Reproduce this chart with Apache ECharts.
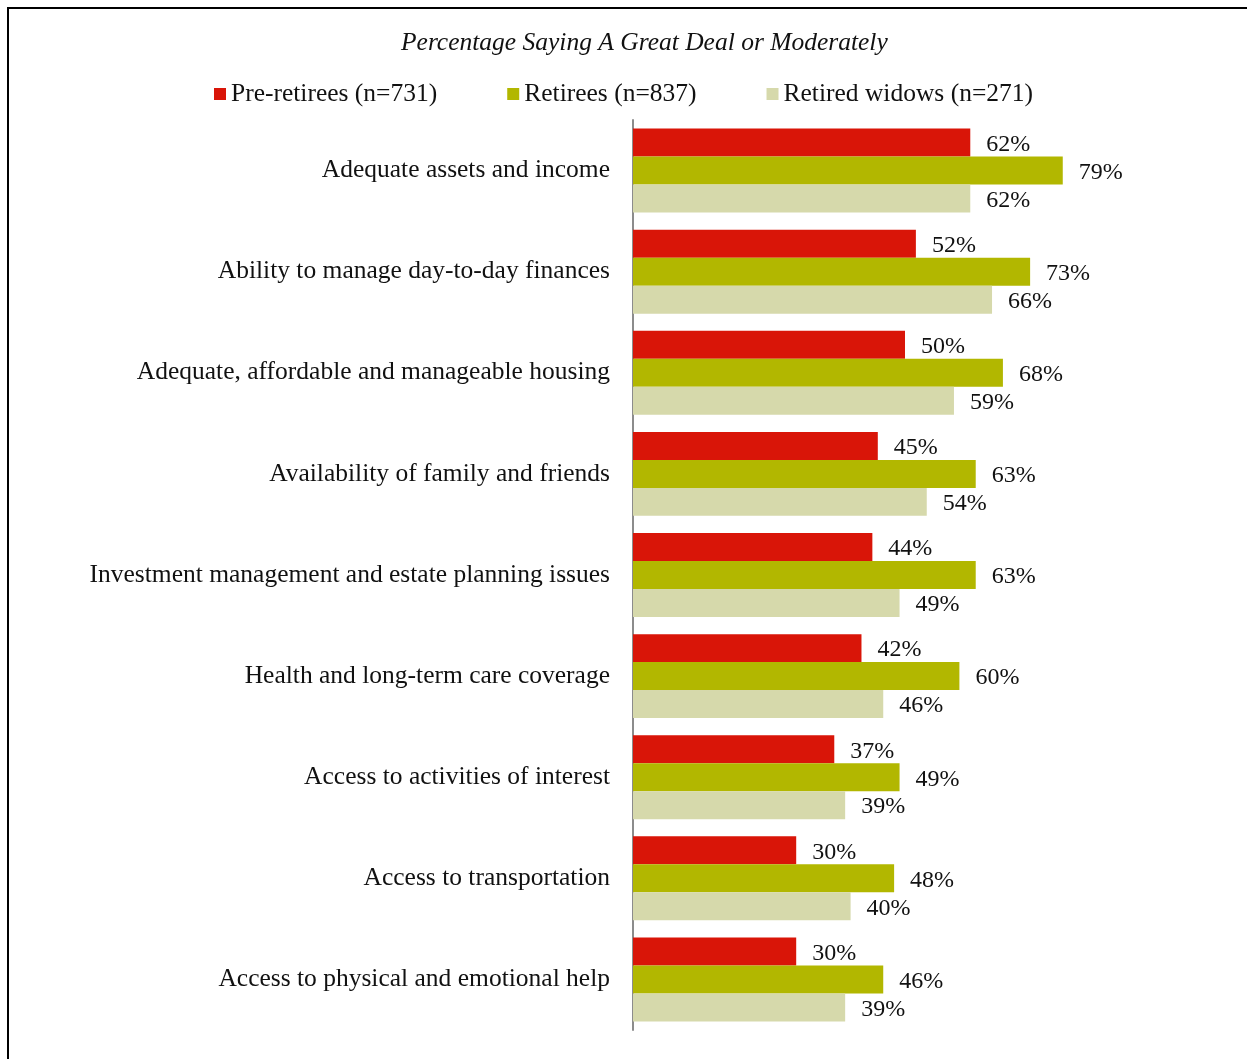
<!DOCTYPE html>
<html>
<head>
<meta charset="utf-8">
<style>
  html, body { margin: 0; padding: 0; background: #fff; }
  #chart { width: 1247px; height: 1059px; }
</style>
<script src="https://cdn.jsdelivr.net/npm/echarts@6/dist/echarts.min.js"></script>
</head>
<body>
<div id="chart"></div>
<script>
// Survey topics, top to bottom
const categories = [
  'Adequate assets and income',
  'Ability to manage day-to-day finances',
  'Adequate, affordable and manageable housing',
  'Availability of family and friends',
  'Investment management and estate planning issues',
  'Health and long-term care coverage',
  'Access to activities of interest',
  'Access to transportation',
  'Access to physical and emotional help'
];

// Percentage saying "a great deal" or "moderately"
const preRetirees = [62, 52, 50, 45, 44, 42, 37, 30, 30];
const retirees = [79, 73, 68, 63, 63, 60, 49, 48, 46];
const retiredWidows = [62, 66, 59, 54, 49, 46, 39, 40, 39];

const seriesNames = ['Pre-retirees (n=731)', 'Retirees (n=837)', 'Retired widows (n=271)'];
const seriesColors = ['#D91508', '#B2B700', '#D6D9AB'];

const FONT = '"Liberation Serif", "Times New Roman", serif';
const TEXT_SIZE = 25.5;

const chart = echarts.init(document.getElementById('chart'), null, { renderer: 'canvas' });

function barSeries(name, data, color) {
  return {
    name: name,
    type: 'bar',
    data: data,
    barGap: '0%',
    barCategoryGap: '17%',
    itemStyle: { color: color },
    label: {
      show: true,
      position: 'right',
      distance: 16,
      formatter: '{c}%',
      color: '#111',
      fontFamily: FONT,
      fontSize: 24,
      offset: [0, 2]
    },
    emphasis: { disabled: true },
    animation: false
  };
}

chart.setOption({
  backgroundColor: '#fff',
  animation: false,
  title: {
    text: 'Percentage Saying A Great Deal or Moderately',
    left: 396,
    top: 25,
    textStyle: {
      fontFamily: FONT,
      fontStyle: 'italic',
      fontWeight: 'normal',
      fontSize: TEXT_SIZE,
      color: '#111'
    }
  },
  legend: {
    top: 76,
    left: 'center',
    itemWidth: 12,
    itemHeight: 12,
    itemGap: 70,
    icon: 'rect',
    textStyle: { fontFamily: FONT, fontSize: TEXT_SIZE, color: '#111' },
    data: seriesNames
  },
  grid: {
    left: 633,
    right: 70,
    top: 120,
    bottom: 29,
    containLabel: false
  },
  xAxis: {
    type: 'value',
    min: 0,
    max: 100,
    show: false
  },
  yAxis: {
    type: 'category',
    inverse: true,
    data: categories,
    axisLine: { show: true, lineStyle: { color: '#8c8c8c', width: 2 } },
    axisTick: { show: false },
    axisLabel: {
      margin: 23,
      padding: [4, 0, 0, 0],
      fontFamily: FONT,
      fontSize: TEXT_SIZE,
      color: '#111'
    }
  },
  graphic: [
    {
      type: 'polyline',
      shape: { points: [[8, 1059], [8, 8], [1247, 8]] },
      style: { stroke: '#000', lineWidth: 2, fill: null },
      silent: true
    }
  ],
  series: [
    barSeries(seriesNames[0], preRetirees, seriesColors[0]),
    barSeries(seriesNames[1], retirees, seriesColors[1]),
    barSeries(seriesNames[2], retiredWidows, seriesColors[2])
  ]
});
</script>
</body>
</html>
